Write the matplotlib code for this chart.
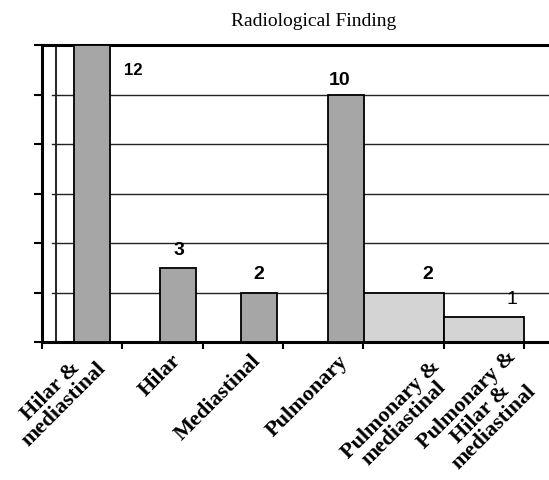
import numpy as np
import matplotlib
matplotlib.use('Agg')
from matplotlib import pyplot as plt
import matplotlib.transforms as mtransforms

categories = ['Hilar &\nmediastinal', 'Hilar', 'Mediastinal', 'Pulmonary',
              'Pulmonary &\nmediastinal', 'Pulmonary &\nHilar &\nmediastinal']
values = [12, 3, 2, 10, 2, 1]
yticks = [0, 2, 4, 6, 8, 10, 12]

W, H = 549, 481
fig = plt.figure(figsize=(W / 100, H / 100), dpi=100)
# axes box in pixels: left 42, right past the edge, bottom 343, top 46
ax = fig.add_axes([42 / W, 1 - 343 / H, 1 - 42 / W, (343 - 46) / H])

x = np.arange(len(categories))
px = 81.0  # pixels per category
x0 = -0.5 + (42 - 38) / px
ax.set_xlim(x0, x0 + (W - 42) / px)
ax.set_ylim(0, 12)

# back wall + grid
wall = x0 + 10 / px
ax.axvline(wall, color='black', lw=1.2, zorder=1)
for t in yticks[1:]:
    ax.axhline(t, xmin=10 / (W - 42), color='#222222', lw=1.0, zorder=1)

dark = '#a6a6a6'
light = '#d4d4d4'
# first four categories: narrow bars pushed right (fake depth); last two: full-width pale bars
shift = np.array([0.12, 0.19, 0.2, 0.28])
ax.bar(x[:4] + shift, values[:4], width=0.45, color=dark, edgecolor='black',
       linewidth=1.3, zorder=3)
ax.bar(x[4:], values[4:], width=1.0, color=light, edgecolor='black',
       linewidth=1.3, zorder=2)

# value labels
for i, v in enumerate(values):
    if i == 0:
        ax.text(i + 0.64, v - 1.0, str(v), ha='center', va='center',
                fontsize=12, fontweight='bold', family='Liberation Sans', zorder=5)
    elif i == 5:
        ax.text(i + 0.35, v + 0.75, str(v), ha='center', va='center',
                fontsize=14, family='Liberation Sans', zorder=5)
    else:
        ax.text(i + 0.2 if i < 4 else i + 0.3, v + 0.75 if i != 3 else v + 0.6,
                str(v), ha='center', va='center',
                fontsize=14, fontweight='bold', family='Liberation Sans', zorder=5)

ax.set_yticks(yticks)
ax.set_yticklabels([])
ax.tick_params(axis='y', direction='out', length=6, width=1.5, color='black')

ax.set_xticks(x)
ax.set_xticklabels(categories, rotation=45, ha='right', rotation_mode='anchor',
                   family='Liberation Serif', fontsize=16, fontweight='bold',
                   linespacing=0.95, multialignment='center')
ax.tick_params(axis='x', which='major', length=0, pad=0)
ax.set_xticks(np.arange(-0.5, 6, 1.0), minor=True)
ax.tick_params(axis='x', which='minor', direction='out', length=5, width=1.5)
# per-label nudges (pixels) to sit like the original
nudges = [(0, -2), (8, -8), (8, -8), (14, -9), (26, -14), (22, -4)]
for lab, (dx, dy) in zip(ax.get_xticklabels(), nudges):
    off = mtransforms.ScaledTranslation(dx / 100, dy / 100, fig.dpi_scale_trans)
    lab.set_transform(lab.get_transform() + off)

for s in ['left', 'top', 'bottom']:
    ax.spines[s].set_linewidth(2.2)
ax.spines['right'].set_visible(False)

fig.text(314 / W, 1 - 22 / H, 'Radiological Finding', ha='center', va='center',
         family='Liberation Serif', fontsize=14)

plt.savefig('out.png', dpi=100)
